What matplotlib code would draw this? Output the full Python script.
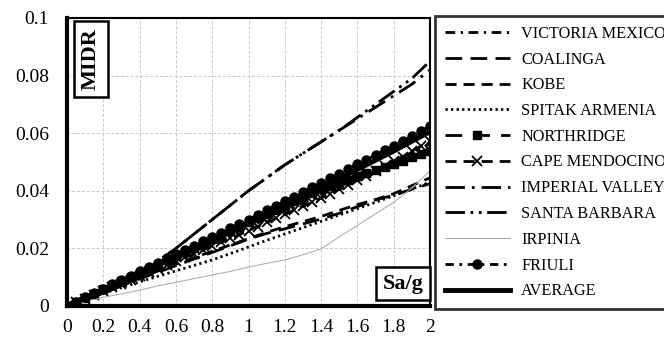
import matplotlib.pyplot as plt

plt.rcParams['font.family'] = ['Liberation Serif', 'DejaVu Serif']

# Sa/g values
x_coarse = [0.0, 0.1, 0.2, 0.3, 0.4, 0.5, 0.6, 0.7, 0.8, 0.9, 1.0,
            1.1, 1.2, 1.3, 1.4, 1.5, 1.6, 1.7, 1.8, 1.9, 2.0]
x_fine = [0.0, 0.05, 0.1, 0.15, 0.2, 0.25, 0.3, 0.35, 0.4, 0.45, 0.5,
          0.55, 0.6, 0.65, 0.7, 0.75, 0.8, 0.85, 0.9, 0.95, 1.0,
          1.05, 1.1, 1.15, 1.2, 1.25, 1.3, 1.35, 1.4, 1.45, 1.5,
          1.55, 1.6, 1.65, 1.7, 1.75, 1.8, 1.85, 1.9, 1.95, 2.0]

# MIDR per record
victoria = [0, 0.0027, 0.0054, 0.0081, 0.0108, 0.0135, 0.0162, 0.019, 0.0218, 0.0246, 0.0274,
            0.0302, 0.033, 0.0358, 0.0386, 0.0414, 0.0443, 0.0472, 0.0502, 0.0532, 0.0563]
coalinga = [0, 0.0024, 0.0048, 0.0071, 0.0094, 0.0117, 0.014, 0.0163, 0.0186, 0.0209, 0.0232,
            0.0252, 0.0268, 0.0285, 0.0302, 0.0322, 0.0345, 0.0368, 0.0385, 0.0405, 0.0425]
kobe = [0, 0.0025, 0.005, 0.0074, 0.0098, 0.0121, 0.0145, 0.0168, 0.019, 0.0212, 0.0234,
        0.0256, 0.0275, 0.0293, 0.0311, 0.0332, 0.0352, 0.037, 0.039, 0.0418, 0.0445]
spitak = [0, 0.0022, 0.0044, 0.0064, 0.0084, 0.0103, 0.0122, 0.0141, 0.016, 0.0182, 0.0205,
          0.0228, 0.025, 0.0272, 0.0294, 0.0316, 0.0338, 0.036, 0.0383, 0.0406, 0.043]
northridge = [0, 0.0014, 0.0028, 0.0043, 0.0058, 0.0072, 0.0087, 0.0101, 0.0116, 0.013, 0.0145,
              0.016, 0.0174, 0.0189, 0.0203, 0.0218, 0.0232, 0.0247, 0.0261, 0.0276, 0.029,
              0.0305, 0.032, 0.0334, 0.0349, 0.0363, 0.0378, 0.0392, 0.0405, 0.0417, 0.0428,
              0.0439, 0.045, 0.0461, 0.0472, 0.0483, 0.0494, 0.0505, 0.0516, 0.0527, 0.0538]
cape = [0, 0.0013, 0.0026, 0.0039, 0.0052, 0.0065, 0.0078, 0.0091, 0.0104, 0.0117, 0.013,
        0.0143, 0.0156, 0.0169, 0.0182, 0.0195, 0.0208, 0.0221, 0.0235, 0.0248, 0.0262,
        0.0276, 0.029, 0.0304, 0.0318, 0.0332, 0.0346, 0.036, 0.0375, 0.039, 0.0405,
        0.042, 0.0436, 0.0452, 0.0468, 0.0485, 0.0502, 0.0519, 0.0537, 0.0555, 0.0573]
imperial = [0, 0.002, 0.0045, 0.007, 0.010, 0.0155, 0.020, 0.025, 0.030, 0.035, 0.040,
            0.0445, 0.049, 0.053, 0.057, 0.061, 0.065, 0.069, 0.073, 0.077, 0.082]
santa_barbara = [0, 0.002, 0.0045, 0.007, 0.010, 0.0155, 0.020, 0.025, 0.030, 0.035, 0.040,
                 0.0445, 0.049, 0.053, 0.057, 0.061, 0.0655, 0.070, 0.0745, 0.079, 0.085]
irpinia = [0, 0.0015, 0.003, 0.0042, 0.0055, 0.007, 0.0082, 0.0095, 0.0108, 0.012, 0.0135,
           0.0148, 0.016, 0.0178, 0.0198, 0.024, 0.028, 0.032, 0.036, 0.041, 0.047]
friuli = [0, 0.0015, 0.003, 0.0045, 0.006, 0.0075, 0.009, 0.0105, 0.012, 0.0135, 0.015,
          0.0165, 0.018, 0.0195, 0.021, 0.0225, 0.024, 0.0255, 0.027, 0.0285, 0.030,
          0.0316, 0.0332, 0.0348, 0.0364, 0.038, 0.0396, 0.0412, 0.0428, 0.0444, 0.046,
          0.0476, 0.0492, 0.0508, 0.0524, 0.054, 0.0556, 0.0573, 0.059, 0.0607, 0.0625]
average = [0, 0.0029, 0.0058, 0.0087, 0.0116, 0.0145, 0.0174, 0.0203, 0.0232, 0.0261, 0.029,
           0.032, 0.035, 0.038, 0.041, 0.0442, 0.0474, 0.0506, 0.0538, 0.0572, 0.0605]

x_ticks = [0, 0.2, 0.4, 0.6, 0.8, 1, 1.2, 1.4, 1.6, 1.8, 2]
x_labels = ["0", "0.2", "0.4", "0.6", "0.8", "1", "1.2", "1.4", "1.6", "1.8", "2"]
y_ticks = [0, 0.02, 0.04, 0.06, 0.08, 0.1]
y_labels = ["0", "0.02", "0.04", "0.06", "0.08", "0.1"]

fig = plt.figure(figsize=(6.64, 3.40), dpi=100)
ax = fig.add_axes([67 / 664, 1 - 306 / 340, 363 / 664, 288 / 340])

lw = 2
ax.plot(x_coarse, victoria, color="black", lw=lw, dashes=(3.5, 2, 0.8, 2), label="VICTORIA MEXICO")
ax.plot(x_coarse, coalinga, color="black", lw=lw, dashes=(6, 3), label="COALINGA")
ax.plot(x_coarse, kobe, color="black", lw=lw, dashes=(4, 2.5), label="KOBE")
ax.plot(x_coarse, spitak, color="black", lw=lw, dashes=(0.8, 1.2), label="SPITAK ARMENIA")
ax.plot(x_fine, northridge, color="black", lw=lw, dashes=(6, 4), marker="s", ms=5.5,
        label="NORTHRIDGE")
ax.plot(x_fine, cape, color="black", lw=lw, dashes=(4, 2.5), marker="x", ms=7, mew=1.3,
        label="CAPE MENDOCINO")
ax.plot(x_coarse, imperial, color="black", lw=lw, dashes=(7, 2.5, 1, 2.5), label="IMPERIAL VALLEY")
ax.plot(x_coarse, santa_barbara, color="black", lw=lw, dashes=(7, 2, 1, 2, 1, 2),
        label="SANTA BARBARA")
ax.plot(x_coarse, irpinia, color="#a8a8a8", lw=0.7, label="IRPINIA")
ax.plot(x_fine, friuli, color="black", lw=lw, dashes=(3, 2, 1, 2), marker="o", ms=6.5,
        label="FRIULI")
ax.plot(x_coarse, average, color="black", lw=3.5, label="AVERAGE")

ax.set_xlim(0, 2)
ax.set_ylim(0, 0.1)
ax.set_xticks(x_ticks)
ax.set_xticklabels(x_labels)
ax.set_yticks(y_ticks)
ax.set_yticklabels(y_labels)
ax.tick_params(axis="both", length=0, labelsize=14)
ax.tick_params(axis="y", pad=13)
ax.tick_params(axis="x", pad=9)
ax.grid(True, color="#c8c8c8", ls=(0, (3, 2)), lw=0.7)
ax.set_axisbelow(True)

for side in ["left", "bottom"]:
    ax.spines[side].set_linewidth(3)
for side in ["top", "right"]:
    ax.spines[side].set_linewidth(1.5)

box = dict(boxstyle="square,pad=0.3", fc="white", ec="black", lw=1.8)
ax.text(0.132, 0.0965, "MIDR", rotation=90, fontsize=16,
        fontweight="bold", ha="center", va="top", bbox=box)
ax.text(1.965, 0.0078, "Sa/g", fontsize=16, fontweight="bold",
        ha="right", va="center", bbox=box)

leg = fig.legend(loc="upper left", bbox_to_anchor=(435 / 664, 1 - 16 / 340), fontsize=11.7,
                 handlelength=4.0, handletextpad=0.7, labelspacing=0.6, numpoints=1,
                 frameon=True, fancybox=False, borderpad=0.6, borderaxespad=0)
leg.get_frame().set_edgecolor("black")
leg.get_frame().set_linewidth(2)

fig.savefig("out.png", dpi=100)
